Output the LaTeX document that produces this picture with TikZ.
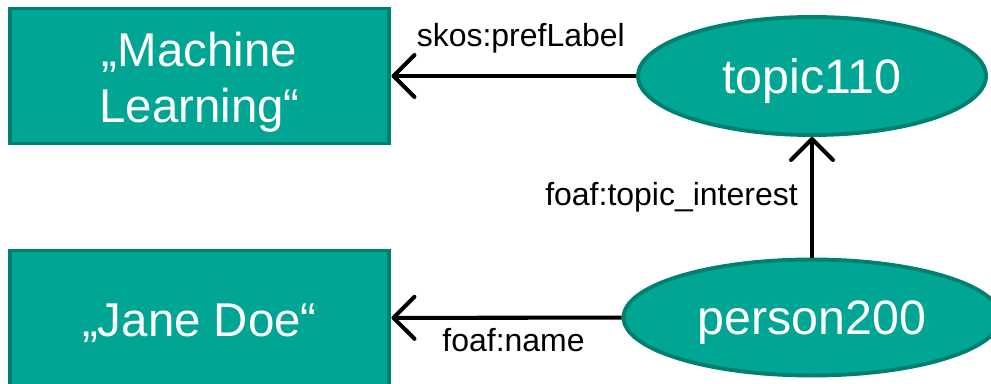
\documentclass[tikz,border=0pt]{standalone}
\usepackage{fontspec}
\setmainfont{Liberation Sans}
\usepackage{xcolor}
\usepackage{tikz}
\usetikzlibrary{arrows.meta,positioning,shapes.geometric}

\definecolor{tealfill}{RGB}{0,166,147}
\definecolor{tealline}{RGB}{0,128,112}

\begin{document}
\begin{tikzpicture}[x=0.02cm,y=-0.02cm,
    literal/.style={draw=tealline,fill=tealfill,line width=3pt*0.75,text=white,
      minimum width=7.6cm,minimum height=2.7cm,inner sep=0pt,text depth=0pt,
      font=\fontsize{27}{32}\selectfont},
    resource/.style={ellipse,draw=tealline,fill=tealfill,line width=3pt*0.75,text=white,
      inner sep=0pt,text depth=0pt,text height=19.6pt,font=\fontsize{27.5}{32}\selectfont},
    rel/.style={line width=2.3pt,-{Straight Barb[length=4.2mm,width=8.4mm,line cap=round,line join=round]}},
    lbl/.style={inner sep=0pt,font=\fontsize{18.2}{22}\selectfont}]
  \useasboundingbox (0,0) rectangle (991,384);
  \node[literal,text height=53.4pt] (ml) at (199.5,76)
    {\begin{tabular}[b]{@{}c@{}}„Machine\\Learning“\end{tabular}};
  \node[literal,text height=21.6pt] (jane) at (199.5,318) {„Jane Doe“};
  \node[resource,minimum width=6.96cm,minimum height=2.36cm] (topic) at (812,76) {topic110};
  \node[resource,minimum width=7.54cm,minimum height=2.32cm] (person) at (812,317.5) {person200};
  % Kanten mit Beschriftung
  \draw[rel] (topic) -- node[lbl,above=12pt,xshift=4pt] (preflbl) {skos:prefLabel} (ml);
  \draw[rel] (person) -- node[lbl,left=7pt] (toplbl) {foaf:topic\_interest} (topic);
  \draw[rel] (person) -- node[lbl,below=5pt,xshift=4pt] (namelbl) {foaf:name} (jane);
\end{tikzpicture}
\end{document}
